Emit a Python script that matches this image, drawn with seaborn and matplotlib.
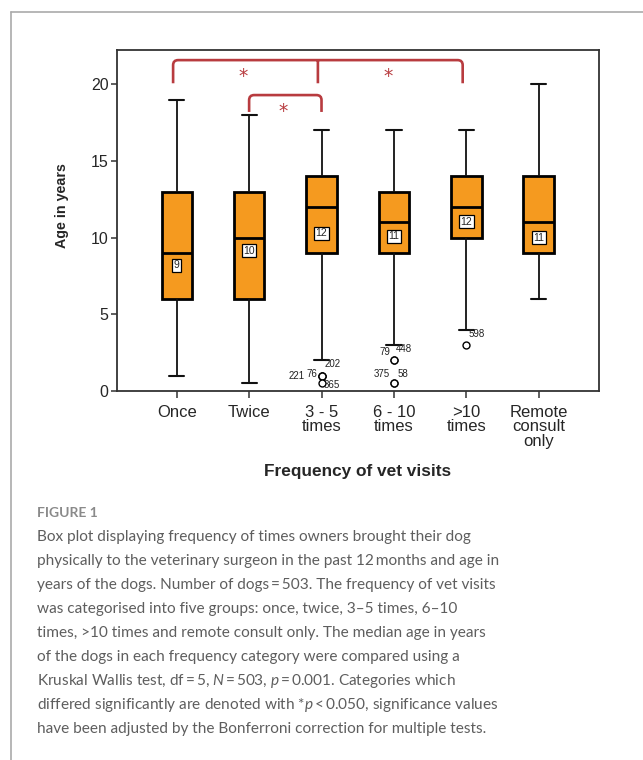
import numpy as np
import pandas as pd
import matplotlib
matplotlib.use("Agg")
import matplotlib.pyplot as plt
import seaborn as sns
from matplotlib.lines import Line2D
from matplotlib.path import Path
from matplotlib.patches import PathPatch

# ---------------- data ----------------
categories = ["Once", "Twice", "3 - 5\ntimes", "6 - 10\ntimes", ">10\ntimes", "Remote\nconsult\nonly"]
whisker_low = [1, 0.5, 2, 3, 4, 6]
q1 = [6, 6, 9, 9, 10, 9]
median = [9, 10, 12, 11, 12, 11]
q3 = [13, 13, 14, 13, 14, 14]
whisker_high = [19, 18, 17, 17, 17, 20]
outlier_values = [[], [], [1, 1, 1, 0.5], [2, 2, 0.5, 0.5], [3], []]
outlier_ids = [[], [], ["202", "221", "76", "365"], ["79", "448", "375", "58"], ["598"], []]
median_label_y = [8.2, 9.15, 10.3, 10.1, 11.05, 10.0]
sig_groups = [(0, 2, 4), (1, 2)]   # bracket legs; a star between consecutive legs

caption_title = "FIGURE 1"
caption_lines = [
    "Box plot displaying frequency of times owners brought their dog",
    "physically to the veterinary surgeon in the past 12\u2009months and age in",
    "years of the dogs. Number of dogs\u2009=\u2009503. The frequency of vet visits",
    "was categorised into five groups: once, twice, 3\u20135 times, 6\u201310",
    "times, >10 times and remote consult only. The median age in years",
    "of the dogs in each frequency category were compared using a",
    "Kruskal Wallis test, df\u2009=\u20095, $\\it{N}$\u2009=\u2009503, $\\it{p}$\u2009=\u20090.001. Categories which",
    "differed significantly are denoted with *$\\it{p}$\u2009<\u20090.050, significance values",
    "have been adjusted by the Bonferroni correction for multiple tests.",
]

# ---------------- build a sample reproducing the box statistics ----------------
rows = []
for i, cat in enumerate(categories):
    vals = (list(outlier_values[i]) + [whisker_low[i]] + [q1[i]] * 20 + [median[i]] * 20
            + [q3[i]] * 20 + [whisker_high[i]])
    rows += [(cat, v) for v in vals]
df = pd.DataFrame(rows, columns=["freq", "age"])

# ---------------- style ----------------
sns.set_style("ticks")
plt.rcParams["font.family"] = ["Liberation Sans", "DejaVu Sans"]
plt.rcParams["mathtext.fontset"] = "custom"
plt.rcParams["mathtext.it"] = "Lato:italic"
plt.rcParams["mathtext.rm"] = "Lato"

ORANGE = "#f59a1f"
RED = "#b83b3f"

fig = plt.figure(figsize=(6.43, 7.6), dpi=100)
ax = fig.add_axes([117 / 643, 1 - 391 / 760, (599 - 117) / 643, (391 - 50) / 760])

sns.boxplot(
    data=df, x="freq", y="age", order=categories, ax=ax,
    color=ORANGE, saturation=1, width=0.42, linecolor="black", linewidth=2.0,
    fliersize=5,
    whiskerprops=dict(linewidth=1.3, color="#111111"),
    capprops=dict(linewidth=1.5, color="#111111"),
    medianprops=dict(linewidth=2.0, color="black"),
    flierprops=dict(marker="o", markerfacecolor="white", markeredgecolor="black",
                    markeredgewidth=1.0),
)

ax.set_xlim(-0.825, 5.833)
ax.set_ylim(0, 22.24)
ax.set_yticks([0, 5, 10, 15, 20])
for s in ax.spines.values():
    s.set_color("#333333")
    s.set_linewidth(1.3)
ax.tick_params(axis="y", length=4, width=1.1, color="#333333", labelsize=11.5, pad=2)
ax.tick_params(axis="x", length=5, width=1.1, color="#333333", labelsize=12, pad=5)
for lab in ax.get_xticklabels():
    lab.set_linespacing(0.95)
    lab.set_va("top")

ax.set_xlabel("Frequency of vet visits", fontsize=12.4, fontweight="bold")
ax.set_ylabel("Age in years", fontsize=10.3, fontweight="bold")
ax.xaxis.set_label_coords(0.5, -0.215)
ax.yaxis.set_label_coords(-0.1, 0.545)

# boxed median labels
for i, m in enumerate(median):
    ax.text(i, median_label_y[i], str(m), ha="center", va="center", fontsize=7.5,
            bbox=dict(boxstyle="square,pad=0.15", facecolor="white", edgecolor="black",
                      linewidth=0.9))

# outlier case-number labels (offsets in pixels)
label_layout = {
    "202": (2.6, 11.7, "left"), "221": (-16.7, 0.0, "right"), "76": (-3.7, 1.7, "right"),
    "365": (2.6, -1.7, "left"), "79": (-3.3, 8.6, "right"), "448": (2.0, 11.0, "left"),
    "375": (-4.0, 9.0, "right"), "58": (3.7, 9.3, "left"), "598": (2.3, 11.0, "left"),
}
for i, (vals, ids) in enumerate(zip(outlier_values, outlier_ids)):
    for v, cid in zip(vals, ids):
        dx, dy, ha = label_layout[cid]
        ax.annotate(cid, (i, v), xytext=(dx, dy), textcoords="offset pixels",
                    ha=ha, va="center", fontsize=7, color="#222222")

# significance brackets
bracket_style = [  # (top y, leg bottom y, x shift)
    (21.58, 20.07, -0.05),
    (19.30, 18.20, 0.0),
]
rx, ry = 0.07, 0.33
for legs, (yt, yb, sh) in zip(sig_groups, bracket_style):
    xs = [l + sh for l in legs]
    x0, x1 = xs[0], xs[-1]
    verts = [(x0, yb), (x0, yt - ry), (x0, yt), (x0 + rx, yt),
             (x1 - rx, yt), (x1, yt), (x1, yt - ry), (x1, yb)]
    codes = [Path.MOVETO, Path.LINETO, Path.CURVE3, Path.CURVE3,
             Path.LINETO, Path.CURVE3, Path.CURVE3, Path.LINETO]
    for xm in xs[1:-1]:
        verts += [(xm, yt), (xm, yb)]
        codes += [Path.MOVETO, Path.LINETO]
    ax.add_patch(PathPatch(Path(verts, codes), facecolor="none", edgecolor=RED,
                           linewidth=1.9, capstyle="butt", clip_on=False))
    for a, b in zip(xs[:-1], xs[1:]):
        ax.text((a + b) / 2 - 0.03, yt - 0.45, "*", ha="center", va="top", fontsize=13.5,
                color=RED, family="DejaVu Sans")

# outer frame of the figure panel
fig.add_artist(Line2D([11 / 643, 11 / 643], [0, 1 - 12 / 760], color="#aaaaaa", lw=1.2,
                      transform=fig.transFigure))
fig.add_artist(Line2D([11 / 643, 1], [1 - 12 / 760, 1 - 12 / 760], color="#aaaaaa", lw=1.2,
                      transform=fig.transFigure))

# caption
fig.text(36.7 / 643, 1 - 513 / 760, caption_title, fontsize=10, fontweight="bold",
         color="#8a8a8a", family="Lato", va="center")
for k, line in enumerate(caption_lines):
    fig.text(36.7 / 643, 1 - (537 + 24 * k) / 760, line, fontsize=11.1, color="#5e5e5e",
             family="Lato", va="center")

fig.savefig("out.png", dpi=100)
